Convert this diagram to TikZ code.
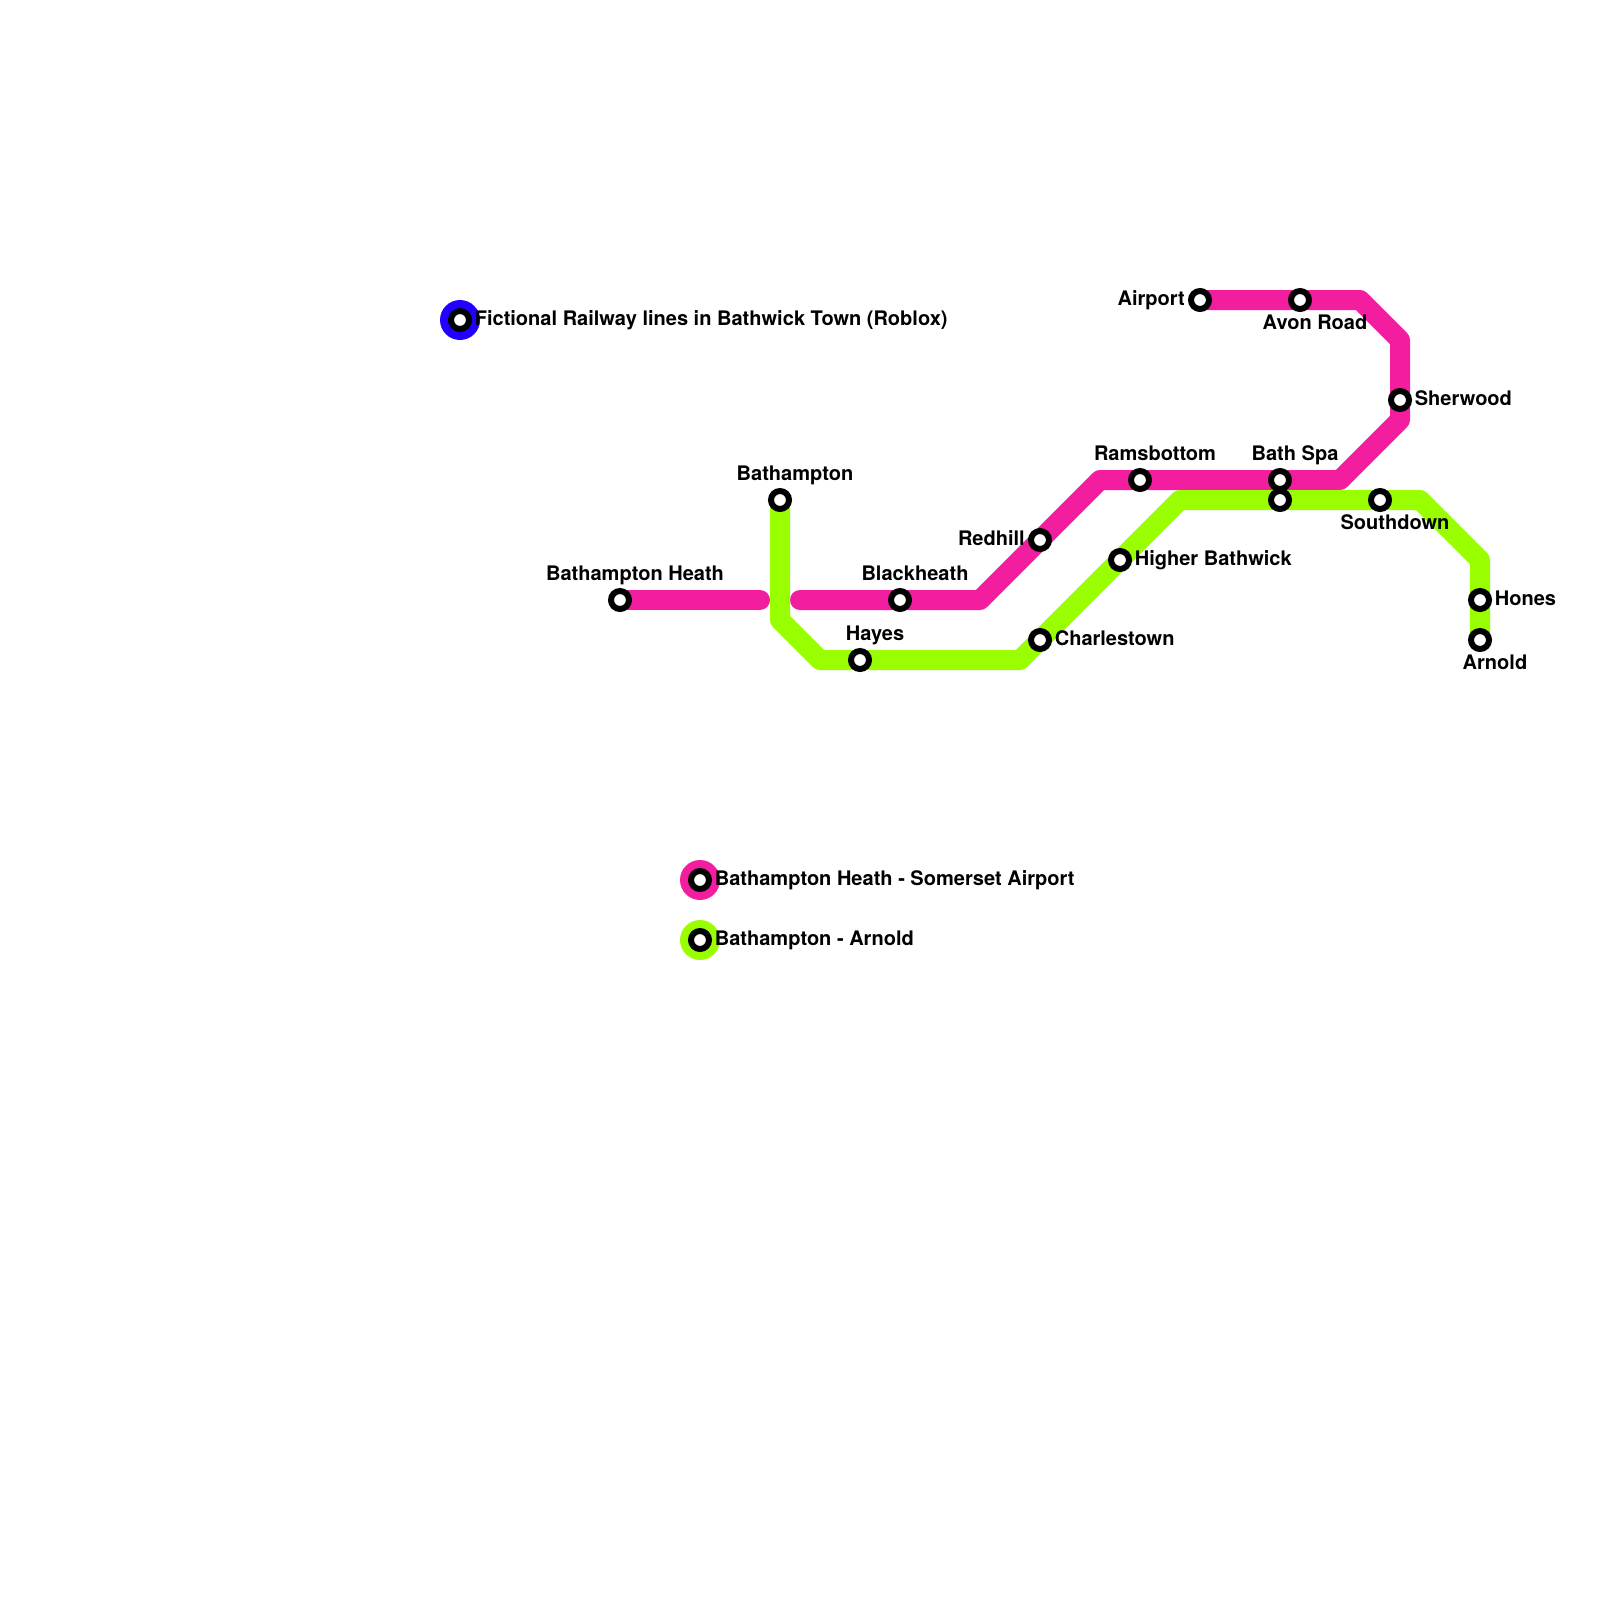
\documentclass[tikz,border=0pt]{standalone}
\usepackage{fontspec}
\setmainfont{TeX Gyre Heros}
\usepackage{xcolor}
\usetikzlibrary{positioning, backgrounds}
\definecolor{linepink}{RGB}{243,29,160}
\definecolor{linegreen}{RGB}{153,255,0}
\definecolor{titleblue}{RGB}{34,0,255}

\begin{document}
\begin{tikzpicture}[
        x=0.5cm, y=-0.5cm,
        stn/.style={circle, draw=black, fill=white, line width=0.15cm, inner sep=0pt, outer sep=0pt, minimum size=0.45cm},
        disc/.style={circle, fill=#1, inner sep=0pt, outer sep=0pt, minimum size=1cm},
        txt/.style={inner sep=0pt, outer sep=0pt, text height=0.35cm, text depth=0.1cm, font=\fontsize{14.25}{15}\selectfont\bfseries},
        lblup/.style={txt, above=0.175cm of #1, xshift=0.375cm},
        lbldown/.style={txt, below=0.165cm of #1, xshift=0.375cm},
        lblright/.style={txt, right=0.145cm of #1},
        lblleft/.style={txt, left=0.155cm of #1},
        route/.style={line width=0.5cm, line cap=round, line join=round, color=#1}
      ]
      \useasboundingbox (0,0) rectangle (80,80);

      % pink line
      \node[stn] (hth) at (31,30) {};
      \node[stn] (blk) at (45,30) {};
      \node[stn] (red) at (52,27) {};
      \node[stn] (ram) at (57,24) {};
      \node[stn] (spa) at (64,24) {};
      \node[stn] (she) at (70,20) {};
      \node[stn] (avn) at (65,15) {};
      \node[stn] (air) at (60,15) {};
      \coordinate (pa) at (38,30);
      \coordinate (pb) at (40,30);
      \coordinate (pc) at (49,30);
      \coordinate (pd) at (55,24);
      \coordinate (pe) at (67,24);
      \coordinate (pf) at (70,21);
      \coordinate (pg) at (70,17);
      \coordinate (ph) at (68,15);

      % green line
      \node[stn] (bat) at (39,25) {};
      \node[stn] (hay) at (43,33) {};
      \node[stn] (cha) at (52,32) {};
      \node[stn] (hig) at (56,28) {};
      \node[stn] (sp2) at (64,25) {};
      \node[stn] (sou) at (69,25) {};
      \node[stn] (hon) at (74,30) {};
      \node[stn] (arn) at (74,32) {};
      \coordinate (ga) at (39,31);
      \coordinate (gb) at (41,33);
      \coordinate (gc) at (51,33);
      \coordinate (gd) at (59,25);
      \coordinate (ge) at (71,25);
      \coordinate (gf) at (74,28);

      % legend
      \node[disc=titleblue] (dta) at (23,16) {};
      \node[disc=linepink] (dpk) at (35,44) {};
      \node[disc=linegreen] (dgr) at (35,47) {};
      \node[stn] (kta) at (dta) {};
      \node[stn] (kpk) at (dpk) {};
      \node[stn] (kgr) at (dgr) {};

      \begin{pgfonlayer}{background}
        \draw[route=linepink] (hth.center) -- (pa);
        \draw[route=linepink] (pb) -- (blk.center) -- (pc) -- (red.center) -- (pd) -- (ram.center) -- (spa.center) -- (pe) -- (pf) -- (she.center) -- (pg) -- (ph) -- (avn.center) -- (air.center);
        \draw[route=linegreen] (bat.center) -- (ga) -- (gb) -- (hay.center) -- (gc) -- (cha.center) -- (hig.center) -- (gd) -- (sp2.center) -- (sou.center) -- (ge) -- (gf) -- (hon.center) -- (arn.center);
      \end{pgfonlayer}

      \node[lblup=hth] (lhth) {Bathampton Heath};
      \node[lblup=blk] (lblk) {Blackheath};
      \node[lblleft=red] (lred) {Redhill};
      \node[lblup=ram] (lram) {Ramsbottom};
      \node[lblup=spa] (lspa) {Bath Spa};
      \node[lblright=she] (lshe) {Sherwood};
      \node[lbldown=avn] (lavn) {Avon Road};
      \node[lblleft=air] (lair) {Airport};
      \node[lblup=bat] (lbat) {Bathampton};
      \node[lblup=hay] (lhay) {Hayes};
      \node[lblright=cha] (lcha) {Charlestown};
      \node[lblright=hig] (lhig) {Higher Bathwick};
      \node[lbldown=sou] (lsou) {Southdown};
      \node[lblright=hon] (lhon) {Hones};
      \node[lbldown=arn] (larn) {Arnold};
      \node[lblright=kta] (ltta) {Fictional Railway lines in Bathwick Town (Roblox)};
      \node[lblright=kpk] (ltpk) {Bathampton Heath - Somerset Airport};
      \node[lblright=kgr] (ltgr) {Bathampton - Arnold};
    \end{tikzpicture}
\end{document}
